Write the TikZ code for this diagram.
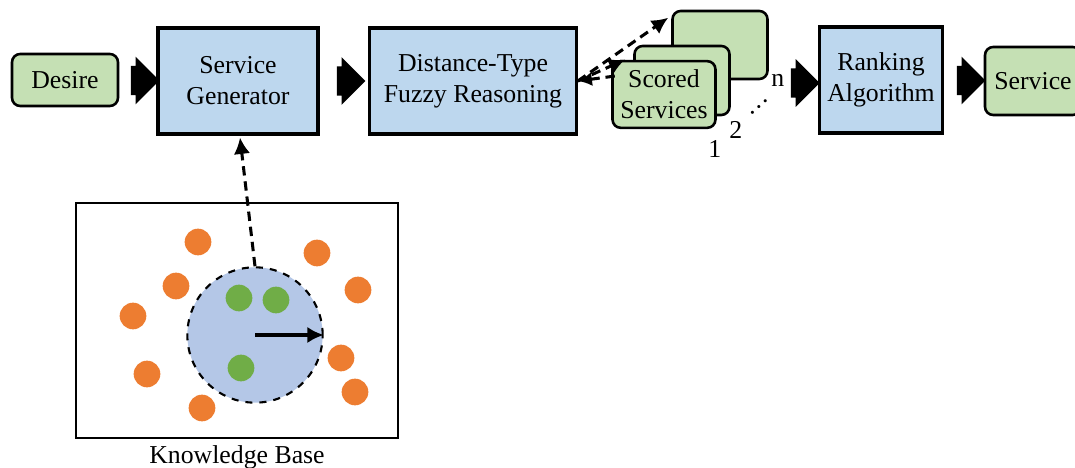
\documentclass[tikz,border=0pt]{standalone}
\usepackage{fontspec}
\setmainfont{Liberation Serif}
\usepackage{xcolor}
\usetikzlibrary{shapes.arrows,arrows.meta,positioning,calc}

\definecolor{procblue}{HTML}{BDD7EE}
\definecolor{termgreen}{HTML}{C5E0B4}
\definecolor{zoneblue}{HTML}{B4C7E7}
\definecolor{farorange}{HTML}{ED7D31}
\definecolor{neargreen}{HTML}{70AD47}

\begin{document}
\begin{tikzpicture}[
  x=0.015cm, y=-0.015cm,
  every node/.style={font=\fontsize{11}{13.2}\selectfont},
  procbox/.style={draw, rectangle, line width=1.3pt, fill=procblue, align=center, minimum height=1.59cm},
  termbox/.style={draw, rectangle, rounded corners=3.5pt, line width=1.1pt, fill=termgreen, align=center},
  flow/.style={single arrow, fill=black, inner xsep=0pt, inner ysep=6pt, minimum height=0.43cm, single arrow head extend=4pt},
  dasharr/.style={dashed, dash pattern=on 4pt off 2.5pt, line width=1.3pt, -{Latex[length=7pt,width=7pt]}},
  idx/.style={inner sep=0.5pt},
  pt/.style={circle, inner sep=0pt, minimum size=0.4cm},
  far/.style={pt, fill=farorange},
  near/.style={pt, fill=neargreen}
]
\clip (0,0) rectangle (1075,468);

\node[termbox, minimum width=1.59cm, minimum height=0.78cm] (desire) at (65,80) {Desire};
\node[procbox, minimum width=2.4cm] (gen) at (238,81) {Service\\Generator};
\node[procbox, minimum width=3.1cm] (fuzzy) at (473,81) {Distance-Type\\Fuzzy Reasoning};
\node[termbox, minimum width=1.425cm, minimum height=1.02cm] (sc3) at (720,45) {};
\node[termbox, minimum width=1.425cm, minimum height=1.035cm] (sc2) at (682,80.5) {};
\node[termbox, minimum width=1.53cm, minimum height=1.0cm] (sc1) at (664,94.5) {Scored\\Services};
\node[procbox, minimum width=1.8cm] (rank) at (881,80) {Ranking\\Algorithm};
\node[termbox, minimum width=1.44cm, minimum height=1.02cm] (service) at (1033,81) {Service};

\node[idx] (n1) at ($(sc1.south east)+(-2,20)$) {1};
\node[idx] (n2) at ($(sc2.south east)+(5,14)$) {2};
\node[idx, rotate=42, inner sep=0pt] (ndots) at ($(sc2.south east)+(29,-9)$) {\ldots};
\node[idx] (nn) at ($(sc3.south east)+(9,0)$) {n};

\node[flow] (f1) at ($(desire.east)!0.5!(gen.west)$) {};
\node[flow] (f2) at ($(gen.east)!0.5!(fuzzy.west)$) {};
\node[flow] (f3) at (798,83) {};
\node[flow] (f4) at ($(rank.east)!0.5!(service.west)$) {};

\coordinate (t3) at ($(sc3.north west)+(-3,8)$);
\coordinate (t2) at ($(sc2.west)+(-8,-21)$);
\coordinate (t1) at ($(sc1.north west)+(5,16)$);
\draw[dasharr] (fuzzy.east) -- (t3);
\draw[dasharr] (fuzzy.east) -- (t2);
\draw[dasharr, {Latex[length=6pt,width=6pt]}-] (fuzzy.east) -- (t1);

\node[draw, rectangle, line width=1pt, minimum width=4.83cm, minimum height=3.525cm] (kb) at (237,320.5) {};
\node[below=1pt of kb, inner sep=1.5pt] (kblabel) {Knowledge Base};

\node[circle, draw, dashed, line width=0.9pt, fill=zoneblue, minimum size=2.03cm, inner sep=0pt] (zone) at (255,335) {};
\foreach \p [count=\i] in {(198,242),(317,253),(176,286),(358,290),(133,316),(341,358),(147,374),(355,392),(202,408)}
  \node[far] (o\i) at \p {};
\foreach \p [count=\i] in {(239,298),(276,300),(241,368)}
  \node[near] (g\i) at \p {};
\draw[line width=1.3pt, -{Latex[length=7pt,width=7pt]}] (zone.center) -- (zone.east);

\draw[dasharr] (zone.north) -- ($(gen.south)+(2,2)$);
\end{tikzpicture}
\end{document}
